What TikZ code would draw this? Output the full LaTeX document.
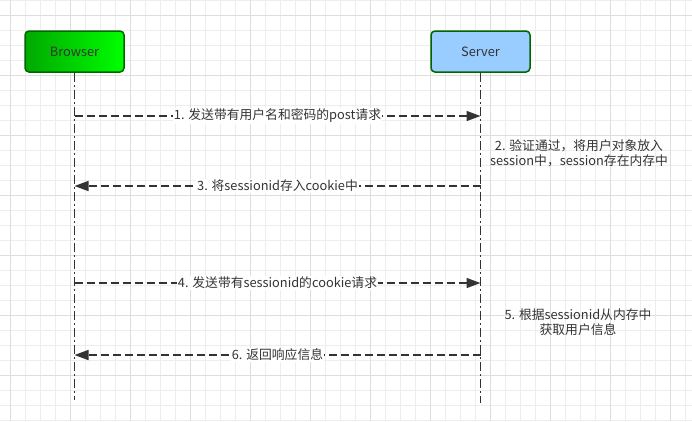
\documentclass[tikz,border=0pt]{standalone}
\usepackage{fontspec}
\setmainfont{Liberation Sans}
\newfontfamily\cjk{Noto Sans CJK SC}
\usetikzlibrary{arrows.meta}
\definecolor{ink}{HTML}{333333}
\definecolor{gridminor}{HTML}{EDEDED}
\definecolor{gridmajor}{HTML}{DDDDDD}
\definecolor{boxedge}{HTML}{006600}
\definecolor{greenA}{HTML}{00A800}
\definecolor{greenB}{HTML}{00FF00}
\definecolor{serverfill}{HTML}{99CCFF}
\tikzset{
  actor/.style={draw=boxedge, line width=1.5pt, rounded corners=4pt,
    minimum width=99pt, minimum height=41pt, inner sep=0pt,
    font=\cjk\fontsize{12.8}{14}\selectfont, text=ink},
  lifeline/.style={draw=ink, line width=1.5pt,
    dash pattern=on 9pt off 3pt on 2pt off 3pt},
  msg/.style={draw=ink, line width=1.5pt, dash pattern=on 8pt off 4pt,
    -{Triangle[length=14pt,width=10pt]}},
  msglabel/.style={fill=white, inner sep=1pt, text=ink,
    font=\cjk\fontsize{12.8}{14}\selectfont},
  note/.style={align=center, text=ink, inner sep=0pt,
    font=\cjk\fontsize{12.8}{15.5}\selectfont}
}
\begin{document}
\begin{tikzpicture}[x=1pt,y=-1pt]
  \useasboundingbox (0,0) rectangle (692,421);
  % background grid
  \fill[white] (0,0) rectangle (692,421);
  \foreach \gx in {10,25,...,692} \draw[gridminor, line width=0.8pt] (\gx,0) -- (\gx,421);
  \foreach \gy in {0,15,...,421} \draw[gridminor, line width=0.8pt] (0,\gy) -- (692,\gy);
  \foreach \gx in {10,70,...,692} \draw[gridmajor, line width=0.8pt] (\gx,0) -- (\gx,421);
  \foreach \gy in {15,75,...,421} \draw[gridmajor, line width=0.8pt] (0,\gy) -- (692,\gy);

  % participants
  \node[actor, left color=greenA, right color=greenB] (browser) at (74.5,51.5) {Browser};
  \node[actor, fill=serverfill] (server) at (480.5,51.5) {Server};

  % lifelines
  \coordinate (bEnd) at (74.5,400);
  \coordinate (sEnd) at (480.5,403);
  \draw[lifeline] (browser.south) -- (bEnd);
  \draw[lifeline] (server.south) -- (sEnd);

  % message anchors on the lifelines
  \coordinate (b1) at (74.5,116);  \coordinate (s1) at (480.5,116);
  \coordinate (b3) at (74.5,186);  \coordinate (s3) at (480.5,186);
  \coordinate (b4) at (74.5,283);  \coordinate (s4) at (480.5,283);
  \coordinate (b6) at (74.5,355);  \coordinate (s6) at (480.5,355);

  % messages
  \draw[msg] (b1) -- node[msglabel] (m1) {1. 发送带有用户名和密码的post请求} (s1);
  \draw[msg] (s3) -- node[msglabel] (m3) {3. 将sessionid存入cookie中} (b3);
  \draw[msg] (b4) -- node[msglabel] (m4) {4. 发送带有sessionid的cookie请求} (s4);
  \draw[msg] (s6) -- node[msglabel] (m6) {6. 返回响应信息} (b6);

  % server-side notes
  \node[note] (n2) at (579,153.5) {2. 验证通过，将用户对象放入\\session中，session存在内存中};
  \node[note] (n5) at (578,322) {5. 根据sessionid从内存中\\获取用户信息};
\end{tikzpicture}
\end{document}
